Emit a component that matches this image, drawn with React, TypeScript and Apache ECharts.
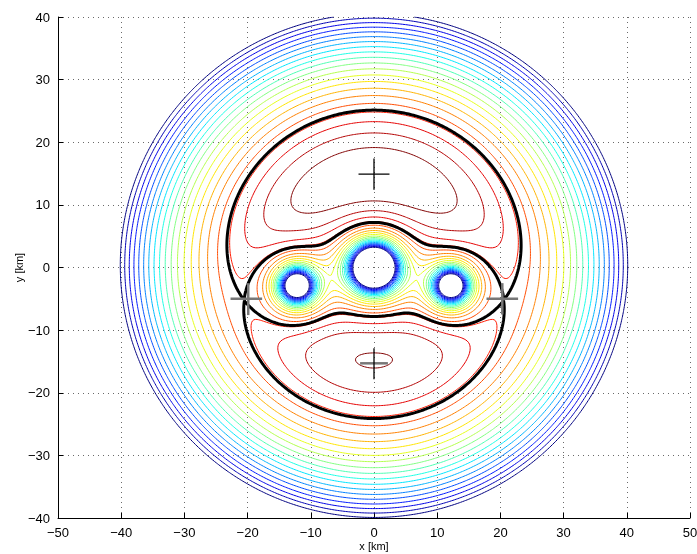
import React, { useEffect, useRef } from "react";
import * as echarts from "echarts";

// contour levels (jet colour scale from the lowest to the highest level)
const contourLevels = [0, 1, 2, 3, 4, 5, 6, 7, 8, 9, 10, 11, 12, 13, 14, 15, 16, 17, 18, 19, 20];

// field model: a ring-shaped hill (height, curvature, ring radius, tilt)
const ringParams = [27.66, 0.0218, 5.7658, 0.01];
// three depressions ("holes"): centre x, centre y [km]
const holeCenters = [[0, 0], [12.2, -2.9], [-12.2, -2.9]];
// depth terms per hole: gaussian amp, gaussian width, lorentz amp, lorentz width, 1/d amp
const holeShapes = [
  [8.9014, 3.8349, 100.1726, 0.467, 62.535],
  [1.9988, 3.0316, 30.9575, 2.5362, 0.0021],
  [1.9988, 3.0316, 30.9575, 2.5362, 0.0021],
];
// stationary points: x, y, half width, vertical-bar x, vertical-bar y1, y2
const markers = [
  [0, 14.9, 2.45, 0, 12.4, 17.4],
  [0, -15.3, 2.2, 0, -17.85, -12.9],
  [20.3, -5, 2.5, 20.3, -7.5, -2.5],
  [-20.2, -5, 2.5, -19.9, -7.6, -2.5],
];
const saddleGuess = [20.3, -5];

function field(x: number, y: number): number {
  const r = Math.sqrt(x * x + y * y);
  const [H, a, r0, b] = ringParams;
  let f = H - a * (r - r0) * (r - r0) + b * y;
  holeCenters.forEach((c, k) => {
    const [A, s, B, t, C] = holeShapes[k];
    const dx = x - c[0], dy = y - c[1], d = dx * dx + dy * dy;
    f -= A * Math.exp(-d / (s * s)) + B / (1 + d / (t * t)) + C / Math.sqrt(d + 0.25);
  });
  return f;
}

function criticalPoint(x: number, y: number): number[] {
  const e = 1e-3;
  for (let k = 0; k < 40; k++) {
    const f0 = field(x, y);
    const fxp = field(x + e, y), fxm = field(x - e, y), fyp = field(x, y + e), fym = field(x, y - e);
    const fx = (fxp - fxm) / (2 * e), fy = (fyp - fym) / (2 * e);
    const fxx = (fxp - 2 * f0 + fxm) / (e * e), fyy = (fyp - 2 * f0 + fym) / (e * e);
    const fxy = (field(x + e, y + e) - field(x + e, y - e) - field(x - e, y + e) + field(x - e, y - e)) / (4 * e * e);
    const det = fxx * fyy - fxy * fxy;
    if (Math.abs(det) < 1e-12) break;
    let dx = -(fyy * fx - fxy * fy) / det, dy = -(fxx * fy - fxy * fx) / det;
    const m = Math.hypot(dx, dy); if (m > 0.5) { dx *= 0.5 / m; dy *= 0.5 / m; }
    x += dx; y += dy;
  }
  return [x, y];
}

function jet(t: number): string {
  const cl = (v: number) => Math.max(0, Math.min(1, v));
  const r = cl(1.5 - Math.abs(4 * t - 3)), g = cl(1.5 - Math.abs(4 * t - 2)), b = cl(1.5 - Math.abs(4 * t - 1));
  return `rgb(${Math.round(r * 255)},${Math.round(g * 255)},${Math.round(b * 255)})`;
}

function contour(F: Float64Array, nx: number, ny: number, x0: number, y0: number, h: number, L: number): number[][][] {
  const adj = new Map<number, number[]>();
  const add = (a: number, b: number) => {
    let la = adj.get(a); if (!la) { la = []; adj.set(a, la); } la.push(b);
    let lb = adj.get(b); if (!lb) { lb = []; adj.set(b, lb); } lb.push(a);
  };
  for (let j = 0; j < ny - 1; j++) {
    for (let i = 0; i < nx - 1; i++) {
      const v0 = F[j * nx + i], v1 = F[j * nx + i + 1], v2 = F[(j + 1) * nx + i + 1], v3 = F[(j + 1) * nx + i];
      const c = (v0 > L ? 1 : 0) | (v1 > L ? 2 : 0) | (v2 > L ? 4 : 0) | (v3 > L ? 8 : 0);
      if (c === 0 || c === 15) continue;
      const e = [2 * (j * nx + i), 2 * (j * nx + i + 1) + 1, 2 * ((j + 1) * nx + i), 2 * (j * nx + i) + 1];
      const ctr = (v0 + v1 + v2 + v3) / 4 > L;
      switch (c) {
        case 1: add(e[3], e[0]); break;
        case 2: add(e[0], e[1]); break;
        case 3: add(e[3], e[1]); break;
        case 4: add(e[1], e[2]); break;
        case 5: if (ctr) { add(e[0], e[1]); add(e[2], e[3]); } else { add(e[3], e[0]); add(e[1], e[2]); } break;
        case 6: add(e[0], e[2]); break;
        case 7: add(e[3], e[2]); break;
        case 8: add(e[2], e[3]); break;
        case 9: add(e[0], e[2]); break;
        case 10: if (ctr) { add(e[3], e[0]); add(e[1], e[2]); } else { add(e[0], e[1]); add(e[2], e[3]); } break;
        case 11: add(e[1], e[2]); break;
        case 12: add(e[1], e[3]); break;
        case 13: add(e[0], e[1]); break;
        case 14: add(e[3], e[0]); break;
      }
    }
  }
  const pt = (key: number): number[] => {
    const idx = key >> 1, i = idx % nx, j = Math.floor(idx / nx);
    const a = F[idx];
    if ((key & 1) === 0) { const t = (L - a) / (F[idx + 1] - a); return [x0 + (i + t) * h, y0 + j * h]; }
    const t = (L - a) / (F[idx + nx] - a); return [x0 + i * h, y0 + (j + t) * h];
  };
  const visited = new Set<number>();
  const lines: number[][][] = [];
  const walk = (start: number) => {
    const line: number[][] = [];
    let prev = -1, cur = start;
    for (;;) {
      visited.add(cur); line.push(pt(cur));
      const nb = adj.get(cur) || [];
      let next = -1;
      for (const k of nb) if (k !== prev && !visited.has(k)) { next = k; break; }
      if (next === -1) { if (nb.indexOf(start) >= 0 && line.length > 2) line.push(pt(start)); break; }
      prev = cur; cur = next;
    }
    lines.push(line);
  };
  adj.forEach((nb, k) => { if (nb.length === 1 && !visited.has(k)) walk(k); });
  adj.forEach((_, k) => { if (!visited.has(k)) walk(k); });
  return lines;
}

const minus = (v: number) => String(v).replace("-", "\u2212");

export default function App() {
  const ref = useRef<HTMLDivElement>(null);
  useEffect(() => {
    const chart = echarts.init(ref.current!, null, { renderer: "svg" });
    const h = 0.25, x0 = -50, y0 = -40, nx = 401, ny = 321;
    const F = new Float64Array(nx * ny);
    for (let j = 0; j < ny; j++) for (let i = 0; i < nx; i++) F[j * nx + i] = field(x0 + i * h, y0 + j * h);
    const sp = criticalPoint(saddleGuess[0], saddleGuess[1]);
    const boldLevel = field(sp[0], sp[1]);
    const series: any[] = [];
    const base = { type: "line", showSymbol: false, symbol: "none", silent: true, animation: false };
    const lo = contourLevels[0], hi = contourLevels[contourLevels.length - 1];
    contourLevels.forEach((L) => {
      const col = jet((L - lo) / (hi - lo));
      for (const line of contour(F, nx, ny, x0, y0, h, L)) series.push({ ...base, data: line, lineStyle: { color: col, width: 1 }, z: 2 });
    });
    for (const line of contour(F, nx, ny, x0, y0, h, boldLevel)) series.push({ ...base, data: line, lineStyle: { color: "#000", width: 3 }, z: 3 });
    markers.forEach((m, k) => {
      const hc = k === 0 ? "#000" : "#777", vc = k <= 1 ? "#000" : "#777";
      const hw = k === 0 ? 1.3 : 2.5, vw = k <= 1 ? 1.3 : 2.5;
      series.push({ ...base, data: [[m[0] - m[2], m[1]], [m[0] + m[2], m[1]]], lineStyle: { color: hc, width: hw }, z: 4 });
      series.push({ ...base, data: [[m[3], m[4]], [m[3], m[5]]], lineStyle: { color: vc, width: vw }, z: 4 });
    });
    const font = "'Liberation Sans', Arial, Helvetica, sans-serif";
    const axisCommon = {
      type: "value",
      axisLine: { show: true, onZero: false, lineStyle: { color: "#000", width: 1 } },
      axisTick: { show: true, inside: true, length: 5, lineStyle: { color: "#000" } },
      axisLabel: { color: "#000", fontSize: 13, fontFamily: font, formatter: minus },
      splitLine: { show: true, lineStyle: { color: "#444", type: [1, 4], width: 0.8 } },
      nameLocation: "middle",
      nameMoveOverlap: false,
      nameTextStyle: { color: "#000", fontSize: 11, fontFamily: font },
    };
    chart.setOption({
      animation: false,
      grid: { left: 58, right: 7, top: 17, bottom: 36, containLabel: false, outerBoundsMode: "none" },
      xAxis: { ...axisCommon, min: -50, max: 50, interval: 10, name: "x [km]", nameGap: 22 },
      yAxis: { ...axisCommon, min: -40, max: 40, interval: 10, name: "y [km]", nameGap: 34 },
      series,
    });
    return () => chart.dispose();
  }, []);
  return <div ref={ref} style={{ position: "fixed", left: 0, top: 0, width: 697, height: 554 }} />;
}
